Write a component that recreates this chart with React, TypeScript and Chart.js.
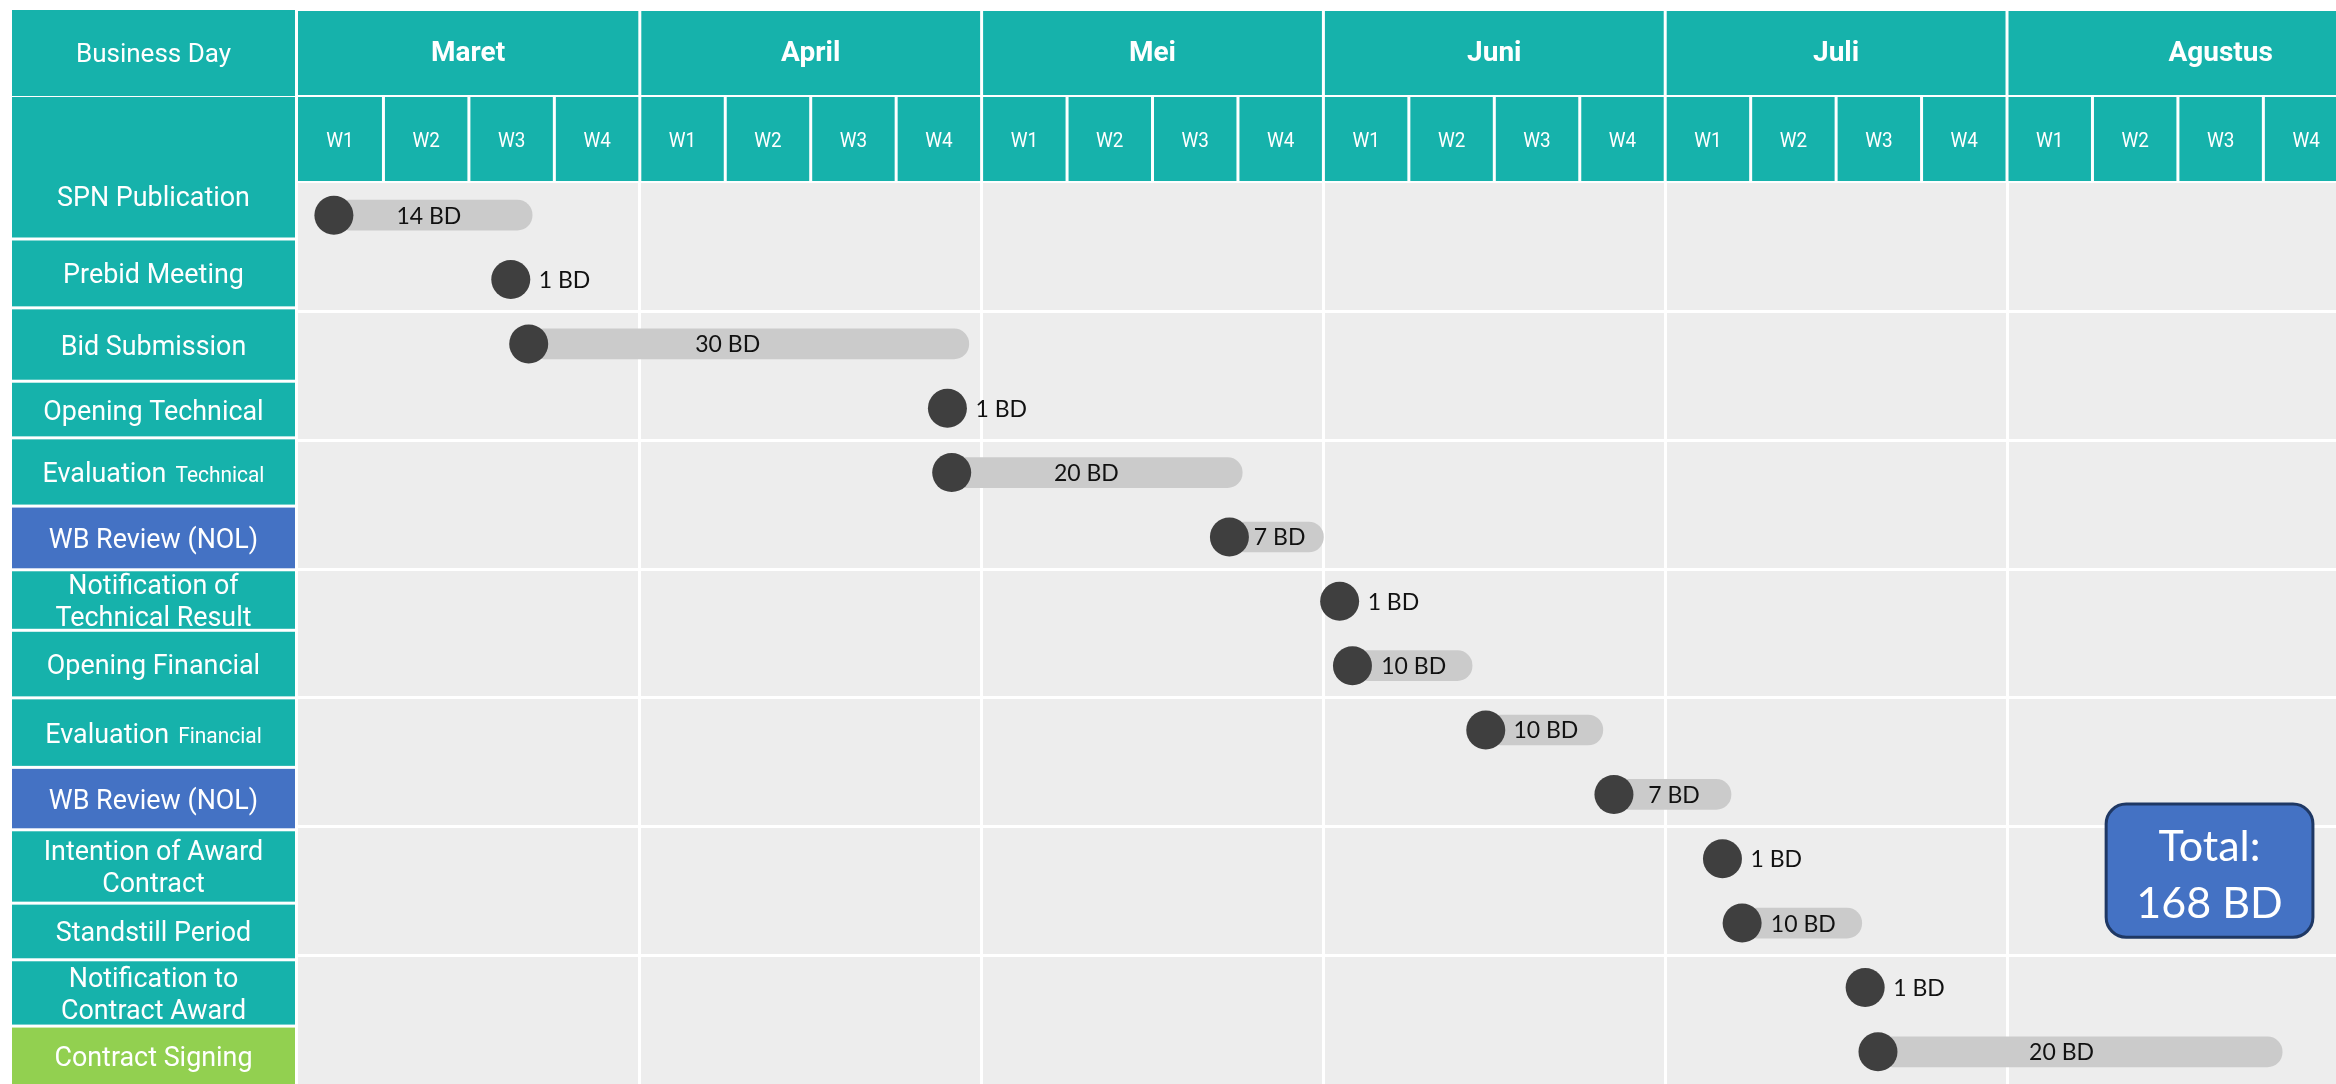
import React, { useEffect, useRef } from 'react';
import { Chart, registerables } from 'chart.js';

Chart.register(...registerables);

// ---------- data ----------
const months = ['Maret', 'April', 'Mei', 'Juni', 'Juli', 'Agustus'];
const weekLabels = ['W1', 'W2', 'W3', 'W4'];
const headerLabel = 'Business Day';

const taskNames = [
  'SPN Publication',
  'Prebid Meeting',
  'Bid Submission',
  'Opening Technical',
  'Evaluation Technical',
  'WB Review (NOL)',
  'Notification of Technical Result',
  'Opening Financial',
  'Evaluation Financial',
  'WB Review (NOL)',
  'Intention of Award Contract',
  'Standstill Period',
  'Notification to Contract Award',
  'Contract Signing',
];

const taskLines = [
  ['SPN Publication'],
  ['Prebid Meeting'],
  ['Bid Submission'],
  ['Opening Technical'],
  ['Evaluation'],
  ['WB Review (NOL)'],
  ['Notification of', 'Technical Result'],
  ['Opening Financial'],
  ['Evaluation'],
  ['WB Review (NOL)'],
  ['Intention of Award', 'Contract'],
  ['Standstill Period'],
  ['Notification to', 'Contract Award'],
  ['Contract Signing'],
];

const taskSmall = ['', '', '', '', 'Technical', '', '', '', 'Financial', '', '', '', '', ''];

const taskKind = ['teal', 'teal', 'teal', 'teal', 'teal', 'blue', 'teal', 'teal', 'teal', 'blue', 'teal', 'teal', 'teal', 'green'];

// start / end in weeks counted from Maret W1
const startWeek = [0.42, 2.49, 2.70, 7.60, 7.65, 10.90, 12.19, 12.34, 13.90, 15.40, 16.67, 16.90, 18.34, 18.49];
const endWeek: (number | null)[] = [2.74, null, 7.85, null, 11.05, 12.0, null, 13.74, 15.27, 16.77, null, 18.30, null, 23.22];
const durationBD = [14, 1, 30, 1, 20, 7, 1, 10, 10, 7, 1, 10, 1, 20];

const totalLines = ['Total:', '168 BD'];

// ---------- layout / styles ----------
// separators between the left label boxes, in row units of the category axis
const labelBoxEdges = [0.37, 1.44, 2.58, 3.46, 4.52, 5.51, 6.45, 7.5, 8.58, 9.55, 10.69, 11.57, 12.6];

const TEAL = '#16b2ab';
const BLUE = '#4472c4';
const GREEN = '#92d050';
const KIND_COLOR: Record<string, string> = { teal: TEAL, blue: BLUE, green: GREEN };
const DOT_R = 19.5;
const CONDENSE = 0.96;

function roundRect(ctx: CanvasRenderingContext2D, x: number, y: number, w: number, h: number, r: number) {
  ctx.beginPath();
  ctx.moveTo(x + r, y);
  ctx.lineTo(x + w - r, y);
  ctx.arcTo(x + w, y, x + w, y + r, r);
  ctx.lineTo(x + w, y + h - r);
  ctx.arcTo(x + w, y + h, x + w - r, y + h, r);
  ctx.lineTo(x + r, y + h);
  ctx.arcTo(x, y + h, x, y + h - r, r);
  ctx.lineTo(x, y + r);
  ctx.arcTo(x, y, x + r, y, r);
  ctx.closePath();
}

// draw text condensed horizontally, left aligned at x, baseline y
function condText(ctx: CanvasRenderingContext2D, text: string, x: number, y: number, sx: number) {
  ctx.save();
  ctx.translate(x, y);
  ctx.scale(sx, 1);
  ctx.textAlign = 'left';
  ctx.fillText(text, 0, 0);
  ctx.restore();
}

const ganttPlugin = {
  id: 'ganttDecor',
  beforeDraw(chart: any) {
    const { ctx, chartArea: ca, scales } = chart;
    const xs = scales.x;
    const ys = scales.y;
    ctx.save();
    // plot background
    ctx.fillStyle = '#ededed';
    ctx.fillRect(ca.left, ca.top, ca.right - ca.left, ca.bottom - ca.top);

    const monthTop = 11;
    const monthBottom = 95;
    const weekTop = 97;
    const weekBottom = 181;
    const leftL = 12;
    const leftR = 295;
    const cx = (leftL + leftR) / 2;

    // Business Day header
    ctx.fillStyle = TEAL;
    ctx.fillRect(leftL, 10, leftR - leftL, 86);
    ctx.fillStyle = '#ffffff';
    ctx.textAlign = 'center';
    ctx.textBaseline = 'middle';
    ctx.font = '26px Roboto';
    ctx.fillText(headerLabel, cx, 55);

    // months + weeks
    months.forEach((m, mi) => {
      const x0 = xs.getPixelForValue(mi * 4) + (mi === 0 ? 0 : 1.5);
      const x1 = xs.getPixelForValue(mi * 4 + 4) - 1.5;
      ctx.fillStyle = TEAL;
      ctx.fillRect(x0, monthTop, x1 - x0, monthBottom - monthTop);
      const mc = mi === months.length - 1 ? xs.getPixelForValue(mi * 4 + 2.5) : (x0 + x1) / 2;
      ctx.fillStyle = '#ffffff';
      ctx.textAlign = 'center';
      ctx.textBaseline = 'middle';
      ctx.font = 'bold 28px Roboto';
      ctx.fillText(m, mc, 54);
      weekLabels.forEach((w, wi) => {
        const k = mi * 4 + wi;
        const wx0 = xs.getPixelForValue(k) + (k === 0 ? 0 : 1.5);
        const wx1 = xs.getPixelForValue(k + 1) - 1.5;
        ctx.fillStyle = TEAL;
        ctx.fillRect(wx0, weekTop, wx1 - wx0, weekBottom - weekTop);
        ctx.fillStyle = '#ffffff';
        ctx.font = '21px Roboto';
        ctx.textBaseline = 'alphabetic';
        const ww = ctx.measureText(w).width * 0.9;
        condText(ctx, w, (wx0 + wx1) / 2 - ww / 2, 147, 0.9);
      });
    });

    // task label boxes
    taskLines.forEach((lines, i) => {
      const top = i === 0 ? weekTop : ys.getPixelForValue(labelBoxEdges[i - 1]) + 1.5;
      const bottom = i === taskLines.length - 1 ? ca.bottom : ys.getPixelForValue(labelBoxEdges[i]) - 1.5;
      ctx.fillStyle = KIND_COLOR[taskKind[i]];
      ctx.fillRect(leftL, top, leftR - leftL, bottom - top);
      ctx.fillStyle = '#ffffff';
      const textC = i === 0 ? bottom - 41 : (top + bottom) / 2;
      const lh = 32;
      ctx.textBaseline = 'alphabetic';
      lines.forEach((ln, li) => {
        const ly = textC + (li - (lines.length - 1) / 2) * lh;
        const base = ly + 10;
        ctx.font = '28px Roboto';
        const w1 = ctx.measureText(ln).width * CONDENSE;
        if (taskSmall[i]) {
          ctx.font = '22px Roboto';
          const w2 = ctx.measureText(taskSmall[i]).width * 0.95;
          const gap = 9;
          const sx = cx - (w1 + gap + w2) / 2;
          ctx.font = '28px Roboto';
          condText(ctx, ln, sx, base, CONDENSE);
          ctx.font = '22px Roboto';
          condText(ctx, taskSmall[i], sx + w1 + gap, base, 0.95);
        } else {
          condText(ctx, ln, cx - w1 / 2, base, CONDENSE);
        }
      });
    });
    ctx.restore();
  },
  afterDatasetsDraw(chart: any) {
    const { ctx, scales } = chart;
    const xs = scales.x;
    const ys = scales.y;
    ctx.save();
    ctx.fillStyle = '#111111';
    ctx.font = '23px Lato';
    ctx.textBaseline = 'middle';
    durationBD.forEach((d, i) => {
      const cx = xs.getPixelForValue(startWeek[i]);
      const cy = ys.getPixelForValue(i);
      const text = `${d} BD`;
      const e = endWeek[i];
      if (e == null) {
        ctx.textAlign = 'left';
        ctx.fillText(text, cx + 28, cy + 1);
      } else {
        const ex = xs.getPixelForValue(e);
        const c = (cx + DOT_R + ex) / 2 - 0.07 * (ex - cx);
        ctx.textAlign = 'center';
        ctx.fillText(text, c, cy + 1);
      }
    });

    // total annotation
    const bx0 = xs.getPixelForValue(21.16);
    const bx1 = xs.getPixelForValue(23.58);
    const by0 = ys.getPixelForValue(9.15);
    const by1 = ys.getPixelForValue(11.22);
    roundRect(ctx, bx0, by0, bx1 - bx0, by1 - by0, 20);
    ctx.fillStyle = BLUE;
    ctx.fill();
    ctx.lineWidth = 3;
    ctx.strokeStyle = '#1f3864';
    ctx.stroke();
    ctx.fillStyle = '#ffffff';
    ctx.font = '43px Lato';
    ctx.textAlign = 'center';
    ctx.textBaseline = 'middle';
    const bc = (by0 + by1) / 2;
    ctx.fillText(totalLines[0], (bx0 + bx1) / 2, bc - 24);
    ctx.fillText(totalLines[1], (bx0 + bx1) / 2, bc + 33);
    ctx.restore();
  },
};

export default function App() {
  const ref = useRef<HTMLCanvasElement | null>(null);
  useEffect(() => {
    document.body.style.margin = '0';
    const canvas = ref.current;
    if (!canvas) return;
    const chart = new Chart(canvas, {
      type: 'bar',
      data: {
        labels: taskNames,
        datasets: [
          {
            type: 'scatter' as any,
            data: startWeek.map((s, i) => ({ x: s, y: i })) as any,
            pointRadius: DOT_R,
            pointHoverRadius: DOT_R,
            backgroundColor: '#3f3f3f',
            borderWidth: 0,
            order: 1,
          } as any,
          {
            type: 'bar',
            data: startWeek.map((s, i) => (endWeek[i] == null ? null : [s, endWeek[i] as number])) as any,
            backgroundColor: '#cbcbcb',
            barThickness: 30,
            borderRadius: 15,
            borderSkipped: false,
            order: 2,
          } as any,
        ],
      },
      options: {
        indexAxis: 'y',
        responsive: false,
        devicePixelRatio: 1,
        animation: false,
        events: [],
        layout: { autoPadding: false, padding: { left: 298, top: 183, right: 0, bottom: 0 } },
        plugins: { legend: { display: false }, tooltip: { enabled: false } },
        scales: {
          x: {
            type: 'linear',
            min: 0,
            max: 23.85,
            ticks: { display: false, stepSize: 4 },
            grid: {
              color: (c: any) => (c.tick && c.tick.value > 0 && c.tick.value % 4 === 0 ? '#ffffff' : 'rgba(0,0,0,0)'),
              lineWidth: 3,
              drawTicks: false,
            },
            border: { display: false },
          },
          y: {
            type: 'category',
            offset: true,
            ticks: { display: false },
            grid: {
              offset: true,
              color: (c: any) => (typeof c.index === 'number' && c.index > 0 && c.index % 2 === 0 ? '#ffffff' : 'rgba(0,0,0,0)'),
              lineWidth: 3,
              drawTicks: false,
            },
            border: { display: false },
          },
        },
      } as any,
      plugins: [ganttPlugin],
    });
    return () => chart.destroy();
  }, []);
  return <canvas ref={ref} width={2336} height={1084} style={{ display: 'block' }} />;
}
